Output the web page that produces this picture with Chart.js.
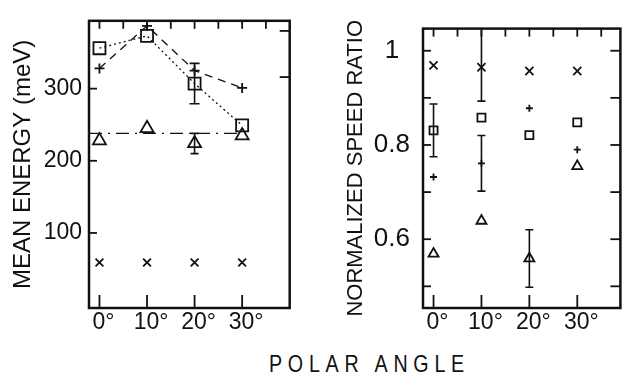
<!DOCTYPE html>
<html>
<head>
<meta charset="utf-8">
<script src="https://cdn.jsdelivr.net/npm/chart.js@4.4.0/dist/chart.umd.min.js"></script>
<style>
  body { margin: 0; background: #fff; width: 628px; height: 372px; position: relative; overflow: hidden; }
  canvas { position: absolute; top: 0; }
  #energyChart { left: 0; }
  #ratioChart { left: 330px; }
  #xTitle { position: absolute; left: 269px; top: 350px; line-height: 24px; white-space: nowrap;
            font: 24px 'Liberation Sans', Arial, sans-serif; letter-spacing: 7px; color: #111;
            transform: scaleX(0.82); transform-origin: 0 0; }
</style>
</head>
<body>
<canvas id="energyChart" width="300" height="345"></canvas>
<canvas id="ratioChart" width="298" height="345"></canvas>
<div id="xTitle">POLAR ANGLE</div>
<script>
// polar angles (deg) of the four measurements
const angles = [0, 10, 20, 30];
const angleTicks = [0, 10, 20, 30];
const angleMinorTicks = [0, 5, 10, 15, 20, 25, 30, 35];

// left panel: mean energy (meV)
const energySquare = [356, 373, 307, 249];
const energySquareErr = [0, 0, 28, 0];
const energyPlus = [328, 387, 325, 301];
const energyTriangle = [228, 245, 224, 235];
const energyTriangleErr = [0, 0, 14, 0];
const energyCross = [59, 59, 59, 59];
const energyTriangleMean = 238;
const energyTicks = [100, 200, 300];
const energyRightTicks = [380, 316];

// right panel: normalized speed ratio
const ratioCross = [0.969, 0.965, 0.957, 0.957];
const ratioCrossErr = [0, 0.072, 0, 0];
const ratioCrossErrUp = [0, 0.09, 0, 0]; // runs up into the frame
const ratioSquare = [0.831, 0.858, 0.821, 0.848];
const ratioSquareErr = [0.056, 0, 0, 0];
const ratioPlus = [0.732, 0.761, 0.878, 0.790];
const ratioPlusErr = [0, 0.059, 0, 0];
const ratioTriangle = [0.569, 0.639, 0.559, 0.755];
const ratioTriangleErr = [0, 0, 0.061, 0];
const ratioTicks = [0.6, 0.8, 1];
const ratioMinorTicks = [0.5, 0.6, 0.7, 0.8, 0.9, 1];

const ink = '#111';
const sans = "'Liberation Sans', Arial, sans-serif";

function pts(ys) {
     return angles.map((a, i) => ({ x: a, y: ys[i] }));
}

// box round the plot with the ticks pointing inwards
const frameTicks = {
     id: 'frameTicks',
     afterDraw(chart, args, opts) {
          const { ctx, chartArea: a, scales } = chart;
          ctx.save();
          ctx.strokeStyle = ink;
          ctx.lineWidth = 2.5;
          ctx.strokeRect(a.left, a.top, a.right - a.left, a.bottom - a.top);
          ctx.lineWidth = 1.8;
          const mark = (x1, y1, x2, y2) => {
               ctx.beginPath(); ctx.moveTo(x1, y1); ctx.lineTo(x2, y2); ctx.stroke();
          };
          opts.bottom.forEach(v => { const x = scales.x.getPixelForValue(v); mark(x, a.bottom, x, a.bottom - 13); });
          opts.top.forEach(v => { const x = scales.x.getPixelForValue(v); mark(x, a.top, x, a.top + 8); });
          opts.left.forEach(v => { const y = scales.y.getPixelForValue(v); mark(a.left, y, a.left + 8, y); });
          opts.right.forEach(v => { const y = scales.y.getPixelForValue(v); mark(a.right, y, a.right - 10, y); });
          ctx.restore();
     }
};

// vertical error bars with small caps
const errorBars = {
     id: 'errorBars',
     afterDatasetsDraw(chart) {
          const { ctx, scales } = chart;
          const top = chart.chartArea.top;
          ctx.save();
          ctx.strokeStyle = ink;
          ctx.lineWidth = 1.6;
          chart.data.datasets.forEach(ds => {
               if (!ds.errors) return;
               ds.data.forEach((p, i) => {
                    const e = ds.errors[i];
                    if (!e) return;
                    const up = ds.errorsUp ? ds.errorsUp[i] : e;
                    const x = scales.x.getPixelForValue(p.x);
                    const y1 = scales.y.getPixelForValue(p.y - e);
                    const y2 = Math.max(scales.y.getPixelForValue(p.y + up), top);
                    const c = ds.capWidth / 2;
                    ctx.beginPath();
                    ctx.moveTo(x, y1); ctx.lineTo(x, y2);
                    ctx.moveTo(x - c, y1); ctx.lineTo(x + c, y1);
                    if (y2 > top) {
                         ctx.moveTo(x - c, y2); ctx.lineTo(x + c, y2);
                    }
                    ctx.stroke();
               });
          });
          ctx.restore();
     }
};

function marker(style, r, extra) {
     return Object.assign({
          pointStyle: style,
          pointRadius: r,
          pointBorderWidth: 1.8,
          pointBorderColor: ink,
          pointBackgroundColor: 'rgba(0,0,0,0)',
          borderColor: ink,
          showLine: false
     }, extra);
}

function angleAxis(min, max) {
     return {
          type: 'linear', min: min, max: max,
          afterBuildTicks: s => { s.ticks = angleTicks.map(v => ({ value: v })); },
          afterFit: s => { s.height = 37; },
          grid: { display: false, drawTicks: false },
          border: { display: false },
          ticks: {
               callback: v => v + '°', color: ink, padding: 1, labelOffset: 4,
               maxRotation: 0, autoSkip: false, font: { family: sans, size: 23 }
          }
     };
}

new Chart(document.getElementById('energyChart'), {
     type: 'line',
     data: {
          datasets: [
               marker('rect', 8.5, { data: pts(energySquare), errors: energySquareErr, capWidth: 10,
                    showLine: true, borderWidth: 1.3, borderDash: [2, 3] }),
               marker('cross', 5, { data: pts(energyPlus), showLine: true, borderWidth: 1.3, borderDash: [8, 6] }),
               {
                    data: [-2.2, 30].map(x => ({ x: x, y: energyTriangleMean })),
                    borderColor: ink, borderWidth: 1.3, borderDash: [13, 6, 2, 6], pointRadius: 0
               },
               marker('triangle', 7.5, { data: pts(energyTriangle), errors: energyTriangleErr, capWidth: 8 }),
               marker('crossRot', 5.5, { data: pts(energyCross) })
          ]
     },
     options: {
          responsive: false,
          animation: false,
          layout: { padding: { top: 20, right: 5, left: 0, bottom: 0 } },
          plugins: {
               legend: { display: false },
               tooltip: { enabled: false },
               frameTicks: { bottom: angleTicks, top: angleMinorTicks, left: energyTicks, right: energyRightTicks }
          },
          scales: {
               x: angleAxis(-2.2, 40),
               y: {
                    min: -4, max: 394,
                    afterBuildTicks: s => { s.ticks = energyTicks.map(v => ({ value: v })); },
                    afterFit: s => { s.width = 89; },
                    grid: { display: false, drawTicks: false },
                    border: { display: false },
                    ticks: { color: ink, padding: 7, font: { family: sans, size: 23 } },
                    title: {
                         display: true, text: 'MEAN ENERGY (meV)', color: ink,
                         font: { family: sans, size: 24 }, padding: { top: 9, bottom: 0 }
                    }
               }
          }
     },
     plugins: [frameTicks, errorBars]
});

new Chart(document.getElementById('ratioChart'), {
     type: 'line',
     data: {
          datasets: [
               marker('crossRot', 5.7, { data: pts(ratioCross), errors: ratioCrossErr, errorsUp: ratioCrossErrUp, capWidth: 8 }),
               marker('rect', 5.7, { data: pts(ratioSquare), errors: ratioSquareErr, capWidth: 8 }),
               marker('cross', 3.5, { data: pts(ratioPlus), errors: ratioPlusErr, capWidth: 8 }),
               marker('triangle', 5.8, { data: pts(ratioTriangle), errors: ratioTriangleErr, capWidth: 8 })
          ]
     },
     options: {
          responsive: false,
          animation: false,
          layout: { padding: { top: 20, right: 2, left: 0, bottom: 0 } },
          plugins: {
               legend: { display: false },
               tooltip: { enabled: false },
               frameTicks: { bottom: angleTicks, top: angleMinorTicks, left: ratioMinorTicks, right: ratioMinorTicks }
          },
          scales: {
               x: angleAxis(-2.2, 39),
               y: {
                    min: 0.454, max: 1.047,
                    afterBuildTicks: s => { s.ticks = ratioTicks.map(v => ({ value: v })); },
                    afterFit: s => { s.width = 93; },
                    grid: { display: false, drawTicks: false },
                    border: { display: false },
                    ticks: {
                         color: ink, padding: 13, crossAlign: 'center', font: { family: sans, size: 26 },
                         callback: v => String(v)
                    },
                    title: {
                         display: true, text: 'NORMALIZED SPEED RATIO', color: ink,
                         font: { family: sans, size: 22 }, padding: { top: 13, bottom: 0 }
                    }
               }
          }
     },
     plugins: [frameTicks, errorBars]
});
</script>
</body>
</html>
